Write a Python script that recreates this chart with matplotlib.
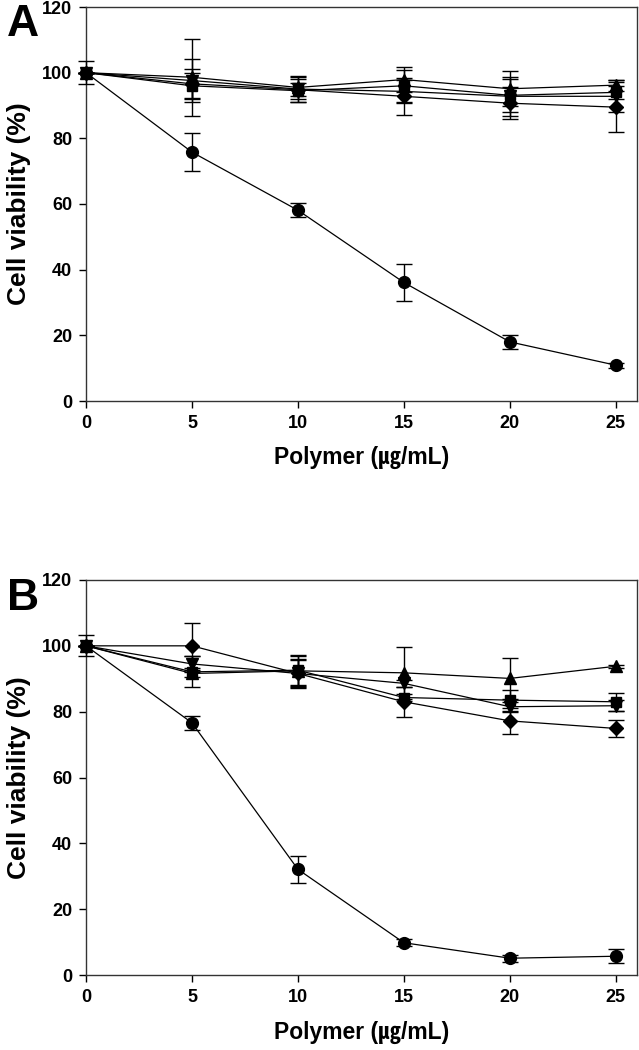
import matplotlib
matplotlib.use("Agg")
import matplotlib.pyplot as plt

plt.rcParams['font.family'] = ['Liberation Sans', 'DejaVu Sans']
plt.rcParams['font.weight'] = 'bold'

x = [0, 5, 10, 15, 20, 25]

# Panel A
a_circle = [100, 75.8, 58.1, 36.1, 18.0, 10.9]
a_circle_err = [3.5, 5.7, 2.1, 5.7, 2.2, 0.8]
a_triup = [100, 98.6, 95.5, 97.9, 95.1, 96.2]
a_triup_err = [0, 11.7, 3.5, 3.7, 5.3, 1.7]
a_square = [100, 96.0, 94.5, 96.0, 93.1, 94.0]
a_square_err = [0, 4.0, 3.5, 4.9, 5.1, 2.0]
a_tridown = [100, 97.6, 95.0, 94.3, 92.8, 92.8]
a_tridown_err = [0, 6.6, 3.8, 3.5, 5.9, 4.9]
a_diamond = [100, 96.6, 94.8, 92.8, 90.7, 89.5]
a_diamond_err = [0, 4.4, 2.0, 5.6, 4.8, 7.7]

# Panel B
b_circle = [100, 76.6, 32.1, 9.8, 5.1, 5.7]
b_circle_err = [3.2, 2.2, 4.1, 1.0, 1.1, 2.2]
b_triup = [100, 91.6, 92.4, 91.8, 90.1, 93.8]
b_triup_err = [0, 1.0, 4.5, 7.9, 6.1, 0.5]
b_square = [100, 92.1, 92.6, 84.3, 83.5, 83.0]
b_square_err = [0, 4.7, 4.5, 1.0, 3.2, 2.8]
b_tridown = [100, 94.5, 91.6, 88.6, 81.5, 81.8]
b_tridown_err = [0, 2.5, 4.0, 1.0, 1.5, 1.6]
b_diamond = [100, 100.0, 91.6, 83.0, 77.2, 74.9]
b_diamond_err = [0, 6.8, 4.5, 4.6, 4.0, 2.5]

yticks = [0, 20, 40, 60, 80, 100, 120]
xticks = [0, 5, 10, 15, 20, 25]
xlabel = "Polymer (\u338d/mL)"
ylabel = "Cell viability (%)"

W, H = 639, 1050
fig = plt.figure(figsize=(W / 100, H / 100), dpi=100)

def make_axes(top_px, bottom_px):
    left, right = 86, 637
    return fig.add_axes([left / W, 1 - bottom_px / H, (right - left) / W, (bottom_px - top_px) / H])

axA = make_axes(7, 401)
axB = make_axes(580, 975)

def draw(ax, series):
    for vals, errs, m, ms in series:
        ax.errorbar(x, vals, yerr=errs, color='black', marker=m, markersize=ms,
                    linewidth=0.9, elinewidth=1.0, capsize=6, capthick=1.0,
                    clip_on=False, zorder=3)
    ax.set_xlim(0, 26)
    ax.set_ylim(0, 120)
    ax.set_xticks(xticks)
    ax.set_yticks(yticks)
    ax.tick_params(direction='out', length=5, width=1, labelsize=13, pad=5,
                   top=False, right=False)
    for lab in ax.get_xticklabels() + ax.get_yticklabels():
        lab.set_fontweight('bold')
    for sp in ax.spines.values():
        sp.set_color('#333333')
        sp.set_linewidth(1.0)
    ax.set_xlabel(xlabel, fontsize=16.5, fontweight='bold',
                  family=['Liberation Sans', 'Noto Sans CJK KR'])
    ax.xaxis.set_label_coords(0.5, -0.115)
    ax.set_ylabel(ylabel, fontsize=19, fontweight='bold')
    ax.yaxis.set_label_coords(-0.1, 0.5)

draw(axA, [(a_circle, a_circle_err, 'o', 8.5), (a_triup, a_triup_err, '^', 8.5),
           (a_square, a_square_err, 's', 7.5), (a_tridown, a_tridown_err, 'v', 8.5),
           (a_diamond, a_diamond_err, 'D', 7)])
draw(axB, [(b_circle, b_circle_err, 'o', 8.5), (b_triup, b_triup_err, '^', 8.5),
           (b_square, b_square_err, 's', 7.5), (b_tridown, b_tridown_err, 'v', 8.5),
           (b_diamond, b_diamond_err, 'D', 7)])

fig.text(23 / W, 1 - 24 / H, 'A', fontsize=32, fontweight='bold', ha='center', va='center')
fig.text(23 / W, 1 - 598 / H, 'B', fontsize=32, fontweight='bold', ha='center', va='center')

fig.savefig('out.png', dpi=100, facecolor='white')
